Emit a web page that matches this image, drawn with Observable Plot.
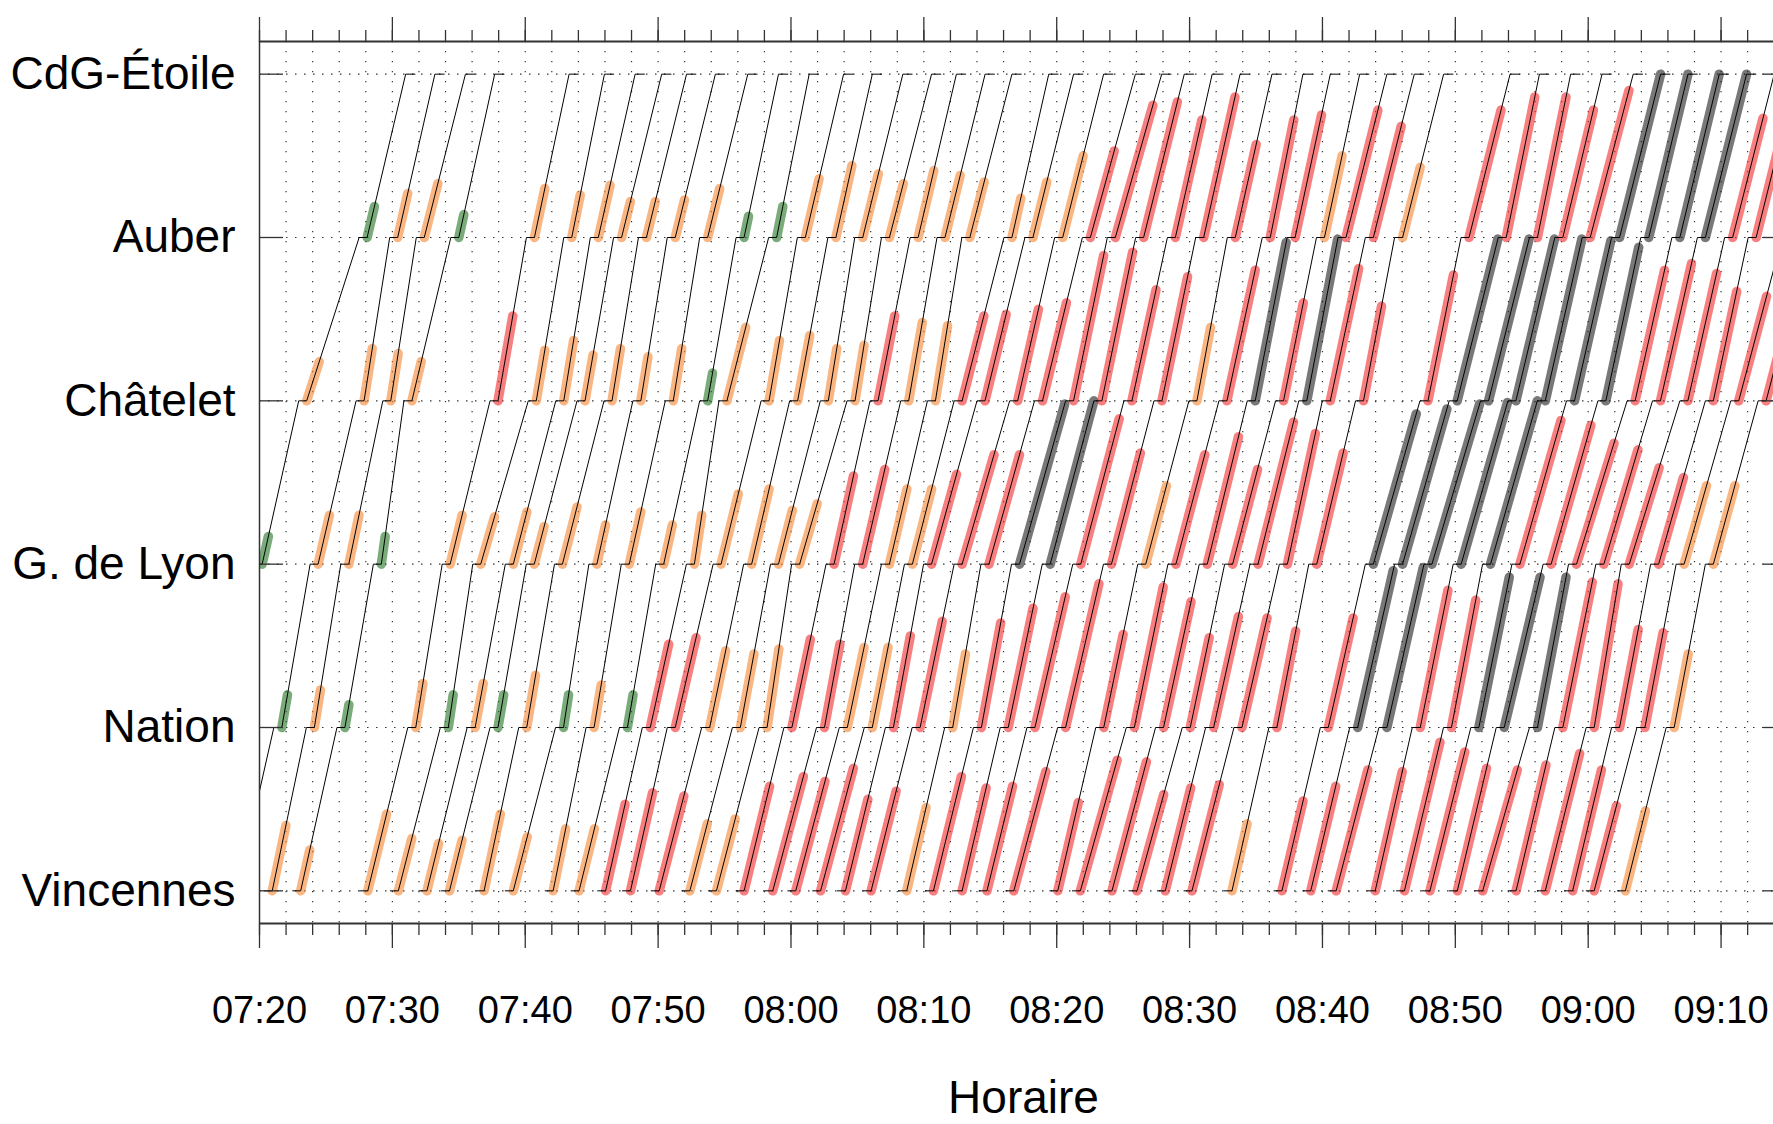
<!DOCTYPE html>
<html><head><meta charset="utf-8">
<script src="https://cdn.jsdelivr.net/npm/d3@7"></script>
<script src="https://cdn.jsdelivr.net/npm/@observablehq/plot@0.6"></script>
<style>html,body{margin:0;padding:0;overflow:hidden;background:#fff}</style>
</head><body><div id="chart"></div>
<script>
// Stations, bottom (index 0) to top (index 5)
const stations = ["Vincennes", "Nation", "G. de Lyon", "Châtelet", "Auber", "CdG-Étoile"];

// Times in minutes after 07:00; one entry per train (index = train)
const depVincennes = [null, 18.3, 20.96, 23.1, 28.15, 30.45, 32.6, 34.3, 36.9, 39.1, 42.1, 44.05, 46.05, 47.92, 50.08, 52.39, 54.39, 56.47, 58.63, 60.36, 62.23, 64.10, 66.03, 68.71, 70.72, 72.88, 74.75, 76.77, 80.08, 81.78, 84.16, 86.04, 88.17, 90.18, 93.19, 96.95, 99.12, 101.03, 103.97, 106.17, 108.09, 110.15, 112.06, 114.57, 116.77, 118.83, 120.45, 122.80];
const depNation = [null, 21.68, 24.13, 26.43, 31.76, 34.21, 36.23, 37.95, 40.11, 42.88, 45.18, 47.69, 49.41, 51.29, 53.88, 56.19, 58.20, 60.07, 62.52, 64.24, 66.12, 67.71, 69.72, 72.17, 74.33, 76.35, 78.36, 80.67, 83.54, 85.84, 88.04, 90.05, 91.81, 93.94, 96.57, 100.44, 102.65, 104.85, 107.36, 109.71, 111.77, 113.68, 116.18, 118.09, 120.45, 122.36, 124.27, 126.47];
const depLyon = [20.2, 24.41, 26.72, 29.17, 34.35, 36.65, 39.10, 40.68, 42.8, 45.39, 47.83, 50.42, 52.73, 54.74, 57.04, 59.06, 60.65, 63.24, 65.40, 67.41, 69.14, 70.58, 72.88, 74.90, 77.20, 79.51, 81.81, 84.12, 86.70, 88.97, 91.33, 93.24, 95.15, 97.36, 99.57, 103.83, 106.03, 108.24, 110.44, 112.65, 114.86, 117.21, 119.12, 121.18, 123.09, 125.30, 127.22, 129.42];
const depChatelet = [23.55, 27.87, 29.88, 31.47, 37.95, 40.83, 42.9, 44.5, 46.53, 48.70, 51.14, 53.73, 55.18, 58.35, 60.50, 62.81, 64.82, 66.55, 68.86, 70.87, 72.88, 74.60, 77.06, 78.93, 81.27, 83.40, 85.66, 87.92, 90.55, 92.81, 94.94, 97.07, 98.82, 100.59, 103.09, 107.94, 110.14, 112.50, 114.56, 116.77, 118.97, 121.33, 123.53, 125.44, 127.50, 129.42, 131.33, 133.39];
const depAuber = [28.1, 30.4, 32.4, 35.0, 40.69, 43.5, 45.5, 47.25, 49.12, 51.29, 53.73, 56.47, 58.92, 61.08, 63.38, 65.40, 67.41, 69.57, 71.59, 73.46, 76.63, 78.21, 80.45, 82.53, 84.41, 86.54, 88.93, 91.06, 93.44, 96.07, 97.94, 100.15, 101.77, 103.83, 106.03, 111.03, 113.83, 116.18, 118.09, 120.15, 122.36, 124.56, 126.90, 128.82, 130.87, 132.64, 135.2, 137.2];
const arrEtoile = [31.0, 33.2, 35.5, 37.7, 43.3, 45.96, 48.27, 50.27, 52.14, 54.31, 56.75, 59.06, 61.37, 63.96, 66.12, 68.42, 70.58, 72.45, 74.61, 76.63, 79.4, 81.27, 83.53, 85.92, 87.9, 89.6, 91.7, 93.8, 96.2, 98.53, 100.59, 102.80, 104.85, 106.91, 109.12, 114.12, 116.33, 118.68, 121.04, 123.39, 125.45, 127.51, 129.86, 131.92, 134.0, 135.7, 138.2, 140.2];

// Load class after leaving each station (G green, O orange, R red, K dark) and highlighted share of the run
const colVincennes = [null, null, "O", "O", "O", "O", "O", "O", "O", "O", "O", "O", "R", "R", "R", "O", "O", "R", "R", "R", "R", "R", "R", "O", "R", "R", "R", "R", "R", "R", "R", "R", "R", "R", "O", "R", "R", "R", "R", "R", "R", "R", "R", "R", "R", "R", "R", "O"];
const lenVincennes = [null, null, .40, .25, .47, .32, .29, .31, .47, .33, .38, .38, .53, .60, .58, .41, .44, .64, .70, .67, .75, .56, .61, .51, .70, .63, .64, .73, .54, .80, .79, .59, .63, .65, .41, .55, .64, .74, .73, .91, .85, .75, .74, .77, .84, .74, .52, .49];
const colNation = [null, "G", "O", "G", "O", "G", "O", "G", "O", "G", "O", "G", "R", "R", "O", "O", "O", "R", "R", "O", "O", "R", "R", "O", "R", "R", "R", "R", "R", "R", "R", "R", "R", "R", "R", "R", "K", "K", "R", "R", "K", "K", "K", "R", "R", "R", "R", "O"];
const lenNation = [null, .20, .23, .14, .27, .20, .27, .20, .32, .20, .26, .20, .51, .55, .47, .45, .48, .54, .51, .49, .49, .56, .65, .45, .64, .73, .80, .88, .57, .86, .77, .55, .68, .67, .59, .67, .96, .98, .84, .78, .92, .92, .92, .89, .88, .60, .58, .45];
const colLyon = ["G", "O", "O", "G", "O", "O", "O", "O", "O", "O", "O", "O", "O", "O", "O", "O", "O", "R", "R", "O", "O", "R", "R", "R", "K", "K", "R", "R", "O", "R", "R", "R", "R", "R", "R", "K", "K", "K", "K", "K", "R", "R", "R", "R", "R", "R", "O", "O"];
const lenLyon = [.17, .30, .30, .17, .30, .29, .32, .23, .35, .24, .32, .24, .30, .43, .46, .33, .37, .54, .58, .46, .46, .55, .67, .67, .98, 1.0, .89, .68, .48, .67, .78, .58, .87, .80, .68, .92, .95, .98, .99, 1.0, .88, .85, .74, .70, .59, .53, .48, .48];
const colChatelet = ["O", "O", "O", "O", "R", "O", "O", "O", "O", "O", "O", "G", "O", "O", "O", "O", "O", "R", "O", "O", "R", "R", "R", "R", "R", "R", "R", "R", "O", "R", "K", "R", "K", "R", "R", "R", "K", "K", "K", "K", "K", "K", "R", "R", "R", "R", "R", "R"];
const lenChatelet = [.24, .32, .29, .24, .52, .31, .37, .28, .32, .27, .32, .17, .45, .37, .40, .32, .34, .52, .48, .46, .52, .53, .56, .60, .89, .91, .68, .76, .45, .80, .97, .60, .99, .81, .58, .77, .99, .99, .99, .99, .98, .94, .80, .84, .78, .67, .64, .60];
const colAuber = ["G", "O", "O", "G", "O", "O", "O", "O", "O", "O", "O", "G", "G", "O", "O", "O", "O", "O", "O", "O", "O", "O", "O", "R", "R", "R", "R", "R", "R", "R", "R", "O", "R", "R", "O", "R", "R", "R", "R", "R", "K", "K", "K", "K", "R", "R", null, null];
const lenAuber = [.19, .27, .33, .14, .30, .26, .32, .22, .22, .23, .30, .13, .19, .36, .44, .39, .33, .41, .38, .34, .24, .34, .50, .53, .81, .83, .72, .86, .57, .72, .75, .50, .78, .68, .43, .78, .86, .86, .78, .90, 1.0, 1.0, 1.0, 1.0, .73, .75, null, null];

// Axis ticks (minutes after 07:00)
const majorTicks = [20, 30, 40, 50, 60, 70, 80, 90, 100, 110, 120, 130];
const minorTicks = d3.range(20, 136, 2);
const stationIdx = [0, 1, 2, 3, 4, 5];
const xDomain = [20, 135];
const yDomain = [-0.2, 5.2];
const DWELL = 0.6;      // stop time shown at each station (min)
const TERMINUS = 0.7;   // stop shown at CdG-Étoile after arrival (min)

const colorOf = {G: "#217321", O: "#f7852e", R: "#f22a2a", K: "#1e1e1e"};
const fmt = m => `${String(7 + Math.floor(m / 60)).padStart(2, "0")}:${String(m % 60).padStart(2, "0")}`;

const deps = [depVincennes, depNation, depLyon, depChatelet, depAuber];
const cols = [colVincennes, colNation, colLyon, colChatelet, colAuber];
const lens = [lenVincennes, lenNation, lenLyon, lenChatelet, lenAuber];

const points = [];
const segs = [];
for (let i = 0; i < depLyon.length; i++) {
  for (let s = 0; s < 5; s++) {
    const d = deps[s][i];
    if (d == null) continue;
    points.push({train: i, t: d - DWELL, s});
    points.push({train: i, t: d, s});
    const arr = s < 4 ? deps[s + 1][i] - DWELL : arrEtoile[i];
    const c = cols[s][i];
    if (c) {
      const f = lens[s][i];
      segs.push({c, x1: d, y1: s, x2: d + f * (arr - d), y2: s + f});
    }
  }
  points.push({train: i, t: arrEtoile[i], s: 5});
  points.push({train: i, t: arrEtoile[i] + TERMINUS, s: 5});
}

const plotW = 1788 - 259 - 1;
const chart = Plot.plot({
  width: 1788, height: 1124,
  marginLeft: 259, marginRight: 1, marginTop: 41, marginBottom: 201,
  style: {fontFamily: "'Liberation Sans', Arial, sans-serif", background: "white", color: "black", maxWidth: "none"},
  x: {domain: xDomain, label: null},
  y: {domain: yDomain, label: null},
  marks: [
    Plot.ruleX(minorTicks.filter(t => t > xDomain[0]), {stroke: "#333", strokeWidth: 1.2, strokeDasharray: "1.2,8.8"}),
    Plot.ruleY(stationIdx, {stroke: "#333", strokeWidth: 1.2, strokeDasharray: "1.5,7.5"}),
    Plot.link(segs, {x1: "x1", y1: "y1", x2: "x2", y2: "y2", stroke: d => colorOf[d.c], strokeWidth: 9.5, strokeLinecap: "round", strokeOpacity: 0.6, clip: true}),
    Plot.line(points, {x: "t", y: "s", z: "train", stroke: "black", strokeWidth: 1, clip: true}),
    Plot.ruleY(yDomain, {stroke: "#333", strokeWidth: 2}),
    Plot.ruleX([xDomain[0]], {stroke: "#333", strokeWidth: 1.5}),
    Plot.tickY(stationIdx, {y: d => d, stroke: "#333", strokeWidth: 1.3, insetRight: plotW - 24}),
    Plot.tickY(stationIdx, {y: d => d, stroke: "#333", strokeWidth: 1.3, insetLeft: plotW - 24}),
    Plot.axisX({anchor: "top", ticks: minorTicks, tickSize: 12, tickFormat: () => "", stroke: "#333", strokeWidth: 1.3}),
    Plot.axisX({anchor: "top", ticks: majorTicks, tickSize: 25, tickFormat: () => "", stroke: "#333", strokeWidth: 1.3}),
    Plot.axisX({anchor: "bottom", ticks: minorTicks, tickSize: 12, tickFormat: () => "", stroke: "#333", strokeWidth: 1.3}),
    Plot.axisX({anchor: "bottom", ticks: majorTicks, tickSize: 25, tickPadding: 48, tickFormat: fmt, fontSize: 38, stroke: "#333", strokeWidth: 1.3}),
    Plot.axisY({anchor: "left", ticks: stationIdx, tickSize: 0, tickPadding: 24, tickFormat: i => stations[i], fontSize: 46}),
    Plot.text(["Horaire"], {frameAnchor: "bottom", dy: 189, fontSize: 46})
  ]
});
document.getElementById("chart").appendChild(chart);
</script>
</body></html>
